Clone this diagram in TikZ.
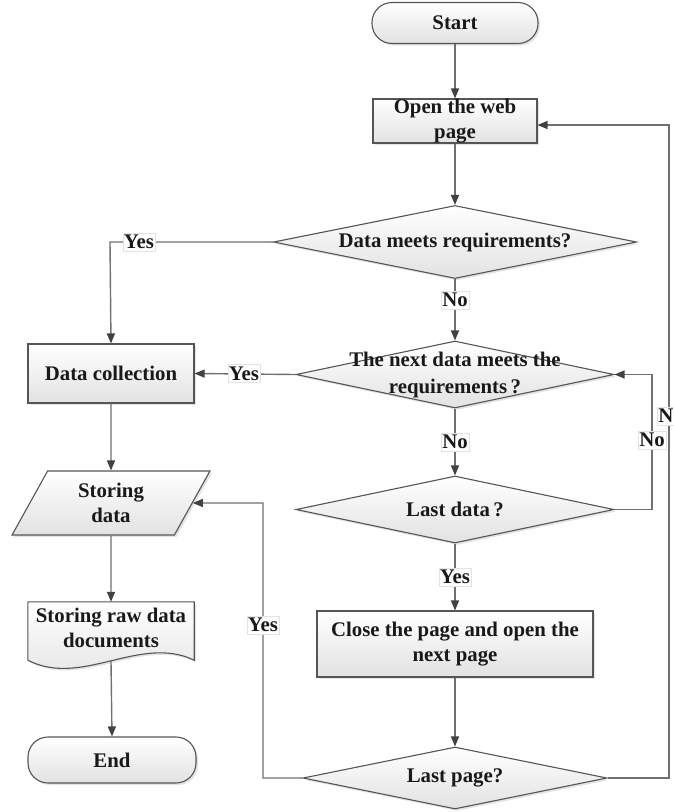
\documentclass[tikz,border=0pt]{standalone}
\usepackage{fontspec}
\setmainfont{Liberation Serif}
\usetikzlibrary{shapes.geometric,arrows.meta,shadows,backgrounds}

\definecolor{edgecol}{RGB}{112,112,112}
\definecolor{bordercol}{RGB}{85,85,85}
\definecolor{tipcol}{RGB}{65,65,65}
\definecolor{shadecol}{RGB}{226,226,226}
\definecolor{inkcol}{RGB}{25,25,25}

\begin{document}
\begin{tikzpicture}[x=1pt,y=-1pt,
  font=\fontsize{20.8}{25}\selectfont\bfseries,
  text=inkcol,
  base/.style={draw=bordercol, line width=1.1pt, top color=white, bottom color=shadecol,
    drop shadow={shadow xshift=2pt, shadow yshift=-2pt, opacity=0.22},
    align=center, inner sep=0pt},
  terminal/.style={base, rectangle, rounded corners=20pt},
  process/.style={base, rectangle},
  decision/.style={base, diamond},
  iobox/.style={base, trapezium, trapezium left angle=65, trapezium right angle=115,
    trapezium stretches=true},
  docbox/.style={rectangle, align=center, inner sep=0pt},
  dtext/.style={align=center, inner sep=0pt, text=inkcol},
  flow/.style={draw=edgecol, line width=1.4pt, -{Triangle[length=10pt,width=8pt,color=tipcol]}},
  tag/.style={fill=white, draw=gray!22, line width=0.4pt, inner xsep=1pt, inner ysep=2pt}
]
\useasboundingbox (0,0) rectangle (673,812);

% main column
\node[terminal, minimum width=166pt, minimum height=41pt] (start) at (455,23) {Start};
\node[process, minimum width=164pt, minimum height=44pt] (open) at (455,121) {Open the web\\page};
\node[decision, minimum width=363pt, minimum height=73pt,
  label={[dtext]center:Data meets requirements?}] (d1) at (455,242) {};
\node[decision, minimum width=318pt, minimum height=67pt,
  label={[dtext, font=\fontsize{20.8}{27}\selectfont\bfseries]center:{The next data meets the\\requirements\,?}}] (d2) at (455,374.5) {};
\node[decision, minimum width=318pt, minimum height=67pt,
  label={[dtext]center:Last data\,?}] (d3) at (455,509.5) {};
\node[process, minimum width=276pt, minimum height=66pt] (close) at (455,644) {Close the page and open the\\next page};
\node[decision, minimum width=304pt, minimum height=62pt,
  label={[dtext]center:Last page?}] (lp) at (455,778) {};

% left column
\node[process, minimum width=166pt, minimum height=59pt] (dc) at (111,373.5) {Data collection};
\node[iobox, minimum width=198pt, minimum height=64pt] (sd) at (111,503) {Storing\\data};
\node[docbox, minimum width=166pt, minimum height=52pt] (doc) at (111,628) {Storing raw data\\documents};
\node[terminal, minimum width=168pt, minimum height=46pt] (end) at (112,760) {End};

% document outline with wavy bottom
\begin{scope}[on background layer]
\path[base] (doc.north west) -- (doc.north east) -- ([yshift=-6pt]doc.south east)
  .. controls (140,634) and (82,688) .. ([yshift=-6pt]doc.south west) -- cycle;
\end{scope}

% bend points
\coordinate (c1) at (110,242);
\coordinate (c2a) at (652,509.5);
\coordinate (c2b) at (652,374.5);
\coordinate (c3a) at (669,778);
\coordinate (c3b) at (669,125);
\coordinate (c4a) at (263,778);
\coordinate (c4b) at (263,503);

% connectors
\draw[flow] (start) -- (open);
\draw[flow] (open) -- (d1);
\draw[flow] (d1.west) -- (c1) -- (dc.north);
\draw[flow] (d1.south) -- (d2.north);
\draw[flow] (d2.west) -- (dc.east);
\draw[flow] (d2.south) -- (d3.north);
\draw[flow] (d3.east) -- (c2a) -- (c2b) -- (d2.east);
\draw[flow] (d3.south) -- (close.north);
\draw[flow] (close.south) -- (lp.north);
\draw[flow] (lp.east) -- (c3a) -- (c3b) -- ([yshift=-4pt]open.east);
\draw[flow] (lp.west) -- (c4a) -- (c4b) -- (sd.east);
\draw[flow] (dc.south) -- (sd.north);
\draw[flow] (sd.south) -- (doc.north);
\draw[flow] ([yshift=-7pt]doc.south) -- (end.north);

% branch labels
\node[tag] (y1) at (139,242) {Yes};
\node[tag] (n1) at (455,300) {No};
\node[tag] (y2) at (244,373.5) {Yes};
\node[tag] (n2) at (455,442) {No};
\node[tag] (n3) at (652,440) {No};
\node[tag] (n4) at (671,416) {No};
\node[tag] (y3) at (455,577) {Yes};
\node[tag] (y4) at (263,625) {Yes};
\end{tikzpicture}
\end{document}
